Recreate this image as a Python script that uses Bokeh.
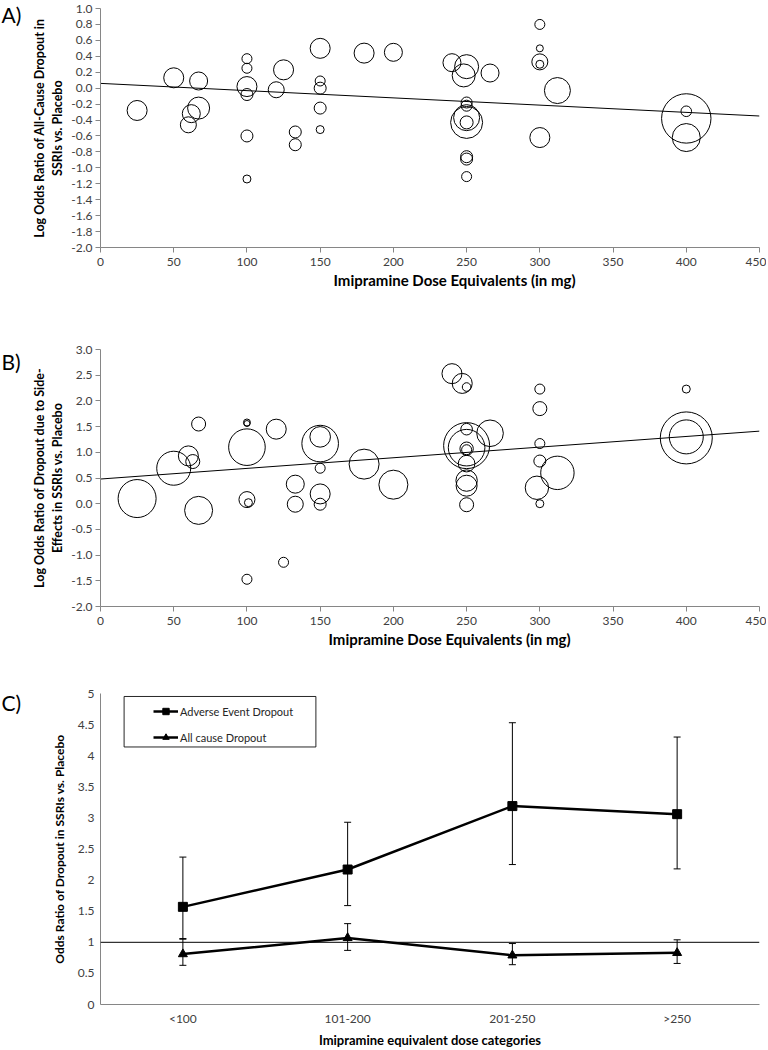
from bokeh.plotting import figure
from bokeh.models import (FixedTicker, NumeralTickFormatter, Label, Span, Whisker, TeeHead, Title,
                          ColumnDataSource, FactorRange, BoxAnnotation, Legend, LegendItem, Range1d)
from bokeh.layouts import column, row
from bokeh.embed import file_html
from bokeh.resources import INLINE

FONT = "Lato"

# ---------------- Panel A: all-cause dropout ----------------
a_dose = [25, 50, 60, 62, 67, 67, 100, 100, 100, 100, 100, 100, 120, 125, 133, 133,
          150, 150, 150, 150, 150, 180, 200, 240, 250, 248, 266, 250, 250, 250, 250, 250,
          250, 250, 250, 300, 300, 300, 300, 312, 300, 400, 400, 400]
a_logor = [-0.28, 0.13, -0.46, -0.32, 0.09, -0.25, 0.37, 0.25, 0.02, -0.08, -0.60, -1.14,
           -0.02, 0.23, -0.55, -0.71, 0.50, 0.09, 0.00, -0.25, -0.52, 0.44, 0.45, 0.32,
           0.27, 0.16, 0.19, -0.18, -0.22, -0.37, -0.43, -0.43, -0.86, -0.89, -1.11,
           0.80, 0.50, 0.33, 0.30, -0.03, -0.62, -0.29, -0.38, -0.62]
a_weight = [10, 10, 8, 9, 9, 11, 5, 5, 10, 6, 6, 4, 8, 10, 6, 6, 10, 5, 6, 6, 4, 10, 9, 9,
            12, 11.5, 9, 5.5, 5.5, 13, 16, 6.5, 6, 6, 5, 5, 3.5, 8, 4, 13, 10, 5.3, 24.7, 14]
a_fit_intercept = 0.06
a_fit_slope = -0.00091

# ---------------- Panel B: dropout due to side-effects ----------------
b_dose = [25, 50, 60, 63, 67, 67, 100, 100, 100, 100, 101, 100, 120, 125, 133, 133,
          150, 150, 150, 150, 150, 180, 200, 240, 247, 250, 250, 250, 250, 250, 250,
          250, 250, 250, 250, 266, 300, 300, 300, 300, 298, 300, 312, 400, 400, 400]
b_logor = [0.10, 0.69, 0.93, 0.82, 1.55, -0.13, 1.58, 1.56, 1.10, 0.08, 0.02, -1.47,
           1.45, -1.14, 0.38, -0.01, 1.17, 1.30, 0.69, 0.19, -0.01, 0.77, 0.37, 2.53,
           2.34, 2.27, 1.45, 1.13, 1.09, 1.07, 1.05, 0.78, 0.45, 0.35, -0.02, 1.37,
           2.23, 1.85, 1.17, 0.83, 0.31, 0.00, 0.60, 2.23, 1.30, 1.28]
b_weight = [19, 17, 10, 7, 7, 14, 3.5, 3, 18.3, 8, 4, 5, 10, 5, 9, 8, 18.3, 10.3, 5, 10, 6,
            15, 14.5, 10, 10, 4.3, 5.8, 23, 18.3, 6.7, 5, 8.3, 10.7, 10.5, 7, 13.3,
            5, 7, 5, 6, 11.7, 4, 16.7, 4, 17, 26]
b_fit_intercept = 0.48
b_fit_slope = 0.00207

# ---------------- Panel C: odds ratios by dose category ----------------
c_cats = ["<100", "101-200", "201-250", ">250"]
c_ae = [1.57, 2.17, 3.19, 3.06]
c_ae_lo = [1.05, 1.59, 2.25, 2.18]
c_ae_hi = [2.37, 2.93, 4.53, 4.30]
c_all = [0.81, 1.07, 0.79, 0.83]
c_all_lo = [0.63, 0.87, 0.64, 0.66]
c_all_hi = [1.06, 1.30, 0.98, 1.04]

panel_tags = ["A)", "B)", "C)"]

TAG_W = 26
W = 740
AXIS_GREY = "#868686"
TICK_TXT = "#404040"
hA, hB, hC = 318, 342, 390
H_ALL = hA + hB + hC


def style_axes(p, tick_len):
    for ax in (p.xaxis[0], p.yaxis[0]):
        ax.axis_line_color = AXIS_GREY
        ax.major_tick_line_color = AXIS_GREY
        ax.major_tick_out = tick_len
        ax.major_tick_in = 0
        ax.minor_tick_line_color = None
        ax.major_label_text_font = FONT
        ax.major_label_text_font_size = "12px"
        ax.major_label_text_color = TICK_TXT
        ax.axis_label_text_font = FONT
        ax.axis_label_text_font_style = "bold"
        ax.axis_label_text_color = "black"
    p.grid.visible = False
    p.outline_line_color = None


def bubble_panel(height, top, bottom, ymin, ymax, ystep, ylabel, xs, ys, ws,
                 icpt, slope, title_left):
    left, right = 74, 7
    p = figure(width=W, height=height, x_range=Range1d(0, 450), y_range=Range1d(ymin, ymax),
               output_backend="svg", toolbar_location=None,
               min_border_left=left, min_border_right=right,
               min_border_top=top, min_border_bottom=bottom)
    style_axes(p, 5)
    p.xaxis.ticker = FixedTicker(ticks=list(range(0, 451, 50)))
    nt = int(round((ymax - ymin) / ystep))
    p.yaxis.ticker = FixedTicker(ticks=[round(ymin + i * ystep, 2) for i in range(nt + 1)])
    p.yaxis.formatter = NumeralTickFormatter(format="0.0")
    p.yaxis.major_label_standoff = 3
    p.xaxis.major_label_standoff = 5
    p.yaxis.axis_label = ylabel
    p.yaxis.axis_label_text_font_size = "12.5px"
    p.yaxis.axis_label_standoff = 3
    p.add_layout(Title(text="Imipramine Dose Equivalents (in mg)", align="left",
                       offset=title_left, standoff=0, text_font=FONT, text_font_size="15px",
                       text_font_style="bold", text_color="black"), "below")

    src = ColumnDataSource(dict(x=xs, y=ys, d=[2 * w for w in ws]))
    p.scatter("x", "y", size="d", source=src, marker="circle",
              fill_color=None, line_color="black", line_width=1)
    fx = [0, 450]
    p.line(fx, [icpt + slope * v for v in fx], line_color="black", line_width=1)
    return p


pA = bubble_panel(hA, 8, 71, -2.0, 1.0, 0.2,
                  "Log Odds Ratio of All-Cause Dropout in\nSSRIs vs. Placebo",
                  a_dose, a_logor, a_weight, a_fit_intercept, a_fit_slope, 233)
pB = bubble_panel(hB, 31, 54, -2.0, 3.0, 0.5,
                  "Log Odds Ratio of Dropout due to Side-\nEffects in SSRIs vs. Placebo",
                  b_dose, b_logor, b_weight, b_fit_intercept, b_fit_slope, 228)

# ---------------- Panel C figure ----------------
cl, cr, ct, cb = 70, 0, 33, 43
pC = figure(width=W, height=hC, x_range=FactorRange(factors=c_cats, range_padding=0),
            y_range=Range1d(0, 5), output_backend="svg", toolbar_location=None,
            min_border_left=cl, min_border_right=cr, min_border_top=ct, min_border_bottom=cb)
style_axes(pC, 0)
pC.yaxis.ticker = FixedTicker(ticks=[i * 0.5 for i in range(11)])
pC.yaxis.major_label_standoff = 6
pC.xaxis.major_label_standoff = 6
pC.yaxis.axis_label = "Odds Ratio of Dropout in SSRIs vs. Placebo"
pC.yaxis.axis_label_text_font_size = "12px"
pC.yaxis.axis_label_standoff = 8
pC.xaxis.axis_label = "Imipramine equivalent dose categories"
pC.xaxis.axis_label_text_font_size = "13px"
pC.xaxis.axis_label_standoff = 3

pC.add_layout(Span(location=1, dimension="width", line_color="black", line_width=1))

src_ae = ColumnDataSource(dict(x=c_cats, y=c_ae, lo=c_ae_lo, hi=c_ae_hi))
src_all = ColumnDataSource(dict(x=c_cats, y=c_all, lo=c_all_lo, hi=c_all_hi))
for s in (src_ae, src_all):
    pC.add_layout(Whisker(base="x", lower="lo", upper="hi", source=s, line_color="black",
                          line_width=1, level="glyph",
                          lower_head=TeeHead(size=7, line_color="black", line_width=1),
                          upper_head=TeeHead(size=7, line_color="black", line_width=1)))

l_ae = pC.line("x", "y", source=src_ae, line_color="black", line_width=2.5)
m_ae = pC.scatter("x", "y", source=src_ae, marker="square", size=9, color="black")
l_all = pC.line("x", "y", source=src_all, line_color="black", line_width=2.5)
m_all = pC.scatter("x", "y", source=src_all, marker="triangle", size=9, color="black")

cfw = W - cl - cr
cfh = hC - ct - cb
ppx = cfw / 4.0
ppy = cfh / 5.0
pC.add_layout(BoxAnnotation(left=24 / ppx, right=219 / ppx, top=5 - 3 / ppy, bottom=5 - 54 / ppy,
                            fill_color="white", fill_alpha=1, line_color="black", line_width=1,
                            line_alpha=0.85))
leg = Legend(items=[LegendItem(label="Adverse Event Dropout", renderers=[l_ae, m_ae]),
                    LegendItem(label="All cause Dropout", renderers=[l_all, m_all])],
             location=(53, cfh - 3 - 52), padding=5, spacing=10, glyph_width=25,
             glyph_height=16, label_height=16, label_standoff=2, margin=0,
             border_line_color=None, background_fill_alpha=0,
             label_text_font=FONT, label_text_font_size="11px", label_text_color="#262626")
pC.add_layout(leg)

# ---------------- panel letters (one narrow strip spanning all panels) ----------------
tags = figure(width=TAG_W, height=H_ALL, x_range=Range1d(0, TAG_W), y_range=Range1d(0, H_ALL),
              output_backend="svg", toolbar_location=None, min_border=0,
              x_axis_location=None, y_axis_location=None)
tags.grid.visible = False
tags.outline_line_color = None
tag_tops = [1, hA + 30, hA + hB + 29]
for t, top in zip(panel_tags, tag_tops):
    tags.add_layout(Label(x=1, y=H_ALL - top, text=t, text_font=FONT, text_font_size="21px",
                          text_baseline="top", text_color="black"))

layout = row(tags, column(pA, pB, pC))
open("out.html", "w").write(file_html(layout, INLINE))
